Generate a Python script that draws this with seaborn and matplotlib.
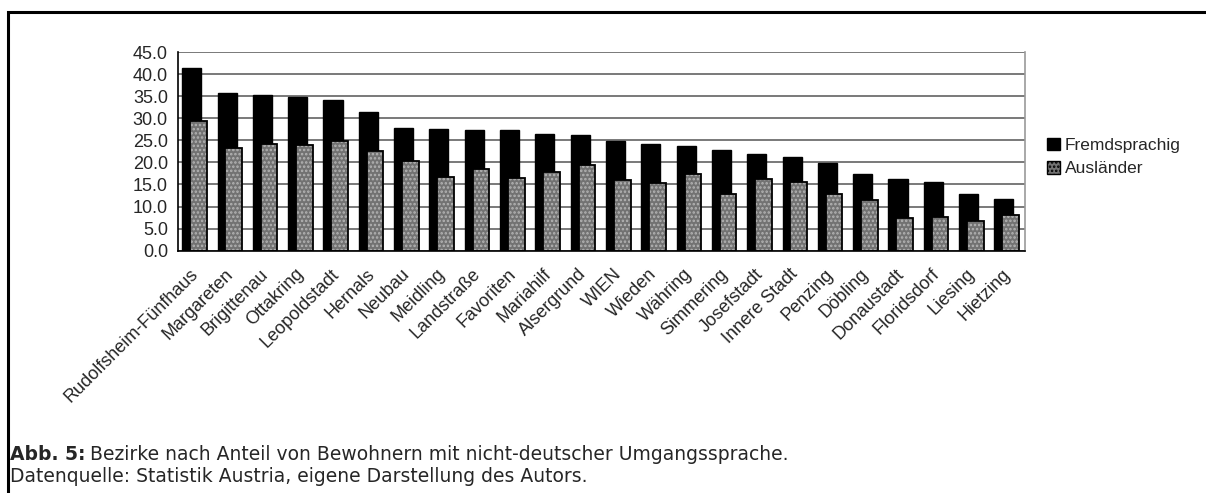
import matplotlib.pyplot as plt
import matplotlib.transforms as mtransforms
import numpy as np
import seaborn as sns
from matplotlib.patches import Patch, Rectangle
from matplotlib.ticker import FormatStrFormatter

bezirke = [
    "Rudolfsheim-Fünfhaus", "Margareten", "Brigittenau", "Ottakring", "Leopoldstadt",
    "Hernals", "Neubau", "Meidling", "Landstraße", "Favoriten", "Mariahilf", "Alsergrund",
    "WIEN", "Wieden", "Währing", "Simmering", "Josefstadt", "Innere Stadt", "Penzing",
    "Döbling", "Donaustadt", "Floridsdorf", "Liesing", "Hietzing",
]
fremdsprachig = [41.4, 35.7, 35.3, 34.7, 34.2, 31.3, 27.9, 27.6, 27.4, 27.3, 26.5, 26.3,
                 24.9, 24.2, 23.6, 22.7, 21.8, 21.2, 19.8, 17.4, 16.2, 15.5, 12.9, 11.8]
auslaender = [29.3, 23.3, 24.2, 23.9, 24.8, 22.5, 20.4, 16.8, 18.6, 16.5, 17.9, 19.3,
              16.0, 15.4, 17.4, 12.8, 16.2, 15.6, 12.8, 11.5, 7.5, 7.6, 6.7, 8.0]
yticks = np.arange(0, 46, 5)

sns.set_style("white")
plt.rcParams["font.family"] = ["Liberation Sans", "DejaVu Sans"]
plt.rcParams["hatch.linewidth"] = 1.2

fig = plt.figure(figsize=(12.06, 4.93), dpi=100)
ax = fig.add_axes([0.1473, 0.4915, 0.7027, 0.403])

pos = np.arange(len(bezirke))
sns.barplot(x=pos - 0.1, y=fremdsprachig, native_scale=True, orient="x", width=0.54,
            color="black", saturation=1, edgecolor="black", linewidth=1, ax=ax)
# dotted grey bars: texture layer first, black outline on top
sns.barplot(x=pos + 0.09, y=auslaender, native_scale=True, orient="x", width=0.47,
            color="#727272", saturation=1, edgecolor="#b4b4b4", linewidth=0,
            hatch="....", ax=ax)
sns.barplot(x=pos + 0.09, y=auslaender, native_scale=True, orient="x", width=0.47,
            fill=False, edgecolor="black", linewidth=1.3, ax=ax)

ax.set_xlim(-0.5, len(bezirke) - 0.5)
ax.set_ylim(0, 45)
ax.set_yticks(yticks)
ax.yaxis.set_major_formatter(FormatStrFormatter("%.1f"))
ax.set_xticks(pos)
ax.set_xticklabels(bezirke, rotation=45, ha="right", va="center", rotation_mode="anchor")
shift = mtransforms.ScaledTranslation(-6 / 100, 0, fig.dpi_scale_trans)
for lbl in ax.get_xticklabels():
    lbl.set_transform(lbl.get_transform() + shift)
ax.set_xticks(np.arange(len(bezirke) + 1) - 0.5, minor=True)
ax.tick_params(axis="x", which="major", length=0, pad=15, labelsize=13)
ax.tick_params(axis="x", which="minor", length=5, width=1, direction="out", color="black")
ax.tick_params(axis="y", length=4, width=1, direction="out", color="black", labelsize=13, pad=3)
ax.set_xlabel("")
ax.set_ylabel("")

ax.yaxis.grid(True, color="#555555", linewidth=1.1)
ax.set_axisbelow(True)
for side in ["left", "bottom"]:
    ax.spines[side].set_color("black")
    ax.spines[side].set_linewidth(1.2)
ax.spines["right"].set_color("#999999")
ax.spines["right"].set_linewidth(1.2)
ax.spines["top"].set_visible(False)

handles = [
    Patch(facecolor="black", edgecolor="black", label="Fremdsprachig"),
    Patch(facecolor="#727272", edgecolor="black", hatch="....", label="Ausländer"),
]
fig.legend(handles=handles, loc="upper left", bbox_to_anchor=(0.862, 0.735), frameon=False,
           fontsize=12.5, handlelength=0.75, handleheight=0.75, handletextpad=0.3,
           labelspacing=0.45, borderaxespad=0)

fig.add_artist(Rectangle((8 / 1206, -0.1), 1.5, 1.1 - 12 / 493, transform=fig.transFigure,
                         fill=False, edgecolor="black", linewidth=2.2))

cap_font = ["DejaVu Sans"]
bold = fig.text(10 / 1206, 1 - 454 / 493, "Abb. 5:", fontsize=13.5, fontweight="bold",
                va="center", family=cap_font)
fig.canvas.draw()
bb = bold.get_window_extent()
fig.text(bb.x1 / fig.bbox.width + 5 / 1206, 1 - 454 / 493,
         "Bezirke nach Anteil von Bewohnern mit nicht-deutscher Umgangssprache.",
         fontsize=13.5, va="center", family=cap_font)
fig.text(10 / 1206, 1 - 476 / 493, "Datenquelle: Statistik Austria, eigene Darstellung des Autors.",
         fontsize=13.5, va="center", family=cap_font)

fig.savefig("out.png", dpi=100)
